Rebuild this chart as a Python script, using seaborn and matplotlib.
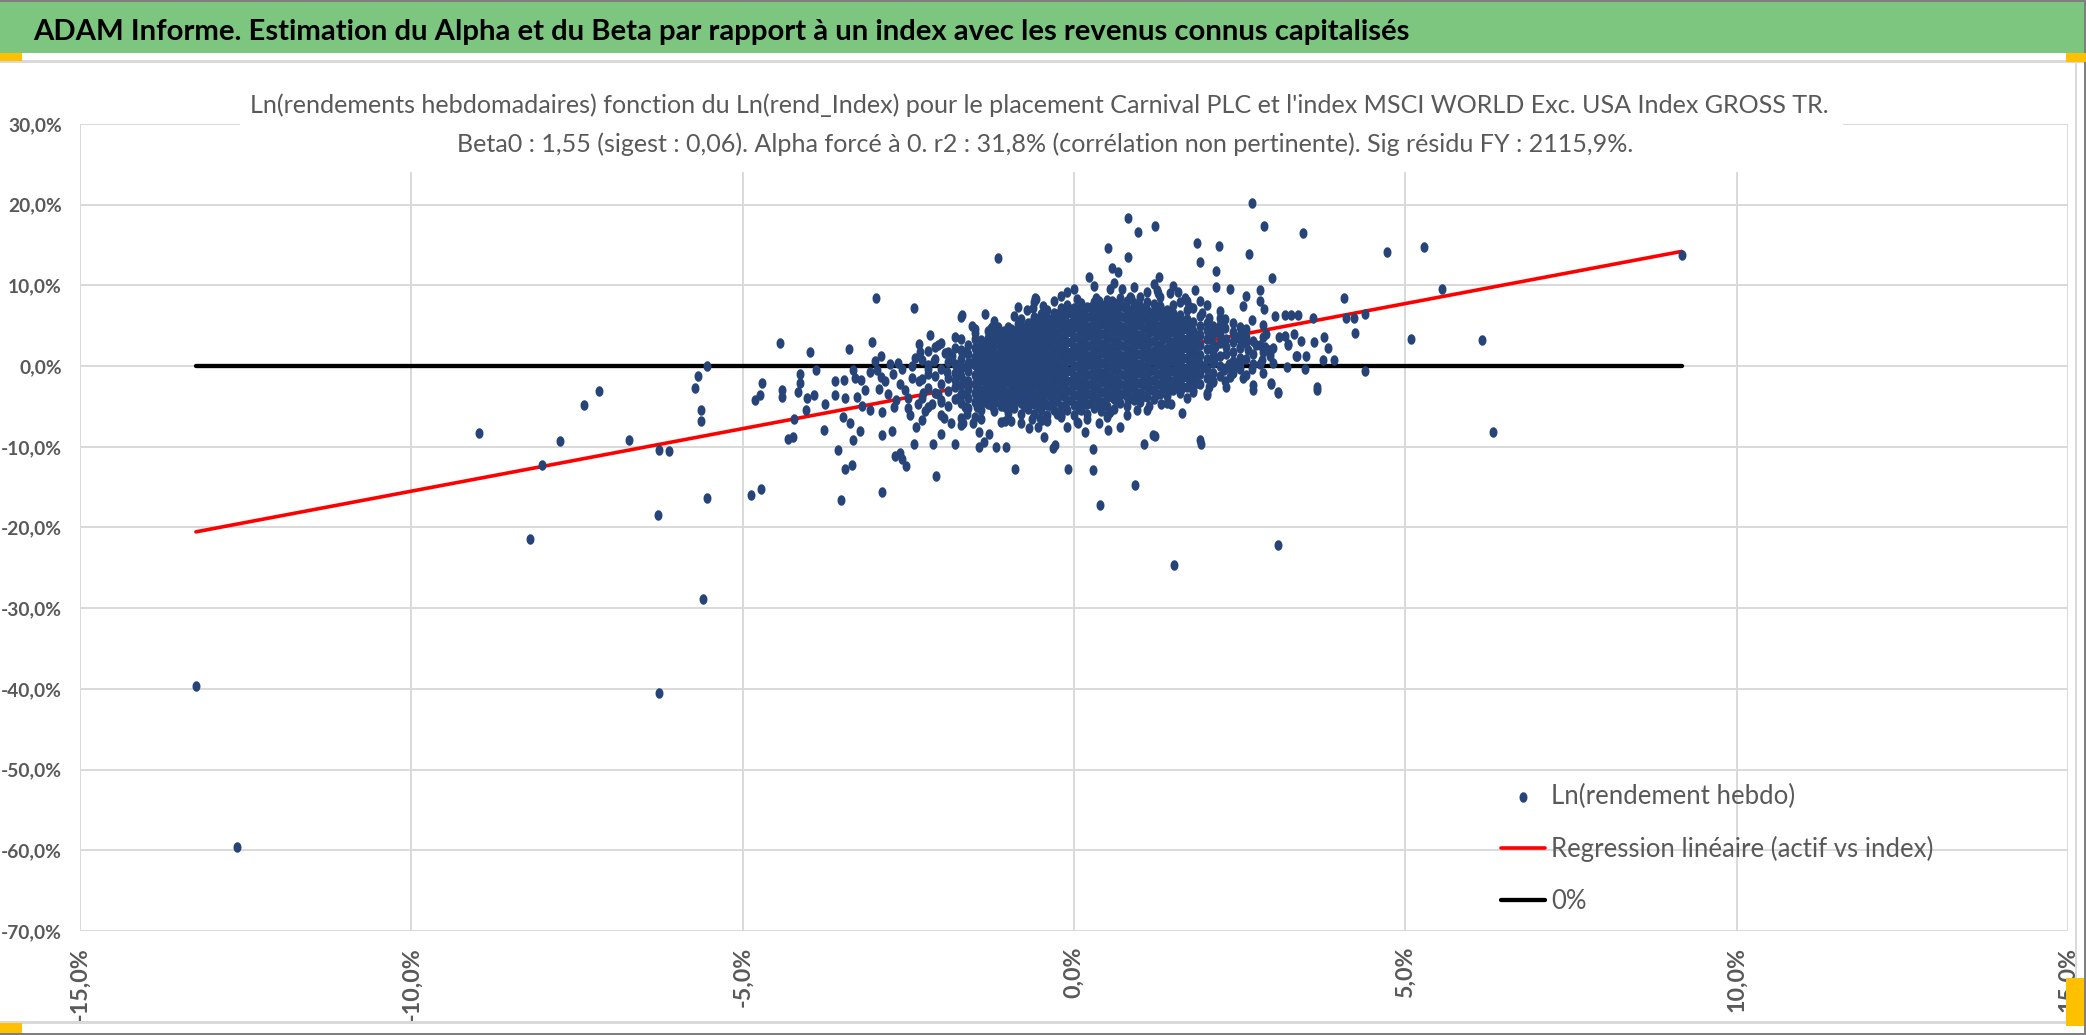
import numpy as np
import pandas as pd
import matplotlib
matplotlib.use("Agg")
import matplotlib.pyplot as plt
import seaborn as sns
from matplotlib.path import Path
from matplotlib.patches import Rectangle

# ------------------------------------------------------------------ data
main_title = ("ADAM Informe. Estimation du Alpha et du Beta par rapport à un index "
              "avec les revenus connus capitalisés")
sub_title_1 = ("Ln(rendements hebdomadaires) fonction du Ln(rend_Index) pour le placement "
               "Carnival PLC et l'index MSCI WORLD Exc. USA Index GROSS TR.")
sub_title_2 = ("Beta0 : 1,55 (sigest : 0,06). Alpha forcé à 0. r2 : 31,8% "
               "(corrélation non pertinente). Sig résidu FY : 2115,9%.")
legend_labels = ["Ln(rendement hebdo)", "Regression linéaire (actif vs index)", "0%"]
beta0 = 1.55
x_ticks = [-15, -10, -5, 0, 5, 10, 15]
y_ticks = [-70, -60, -50, -40, -30, -20, -10, 0, 10, 20, 30]

# (index return %, asset return %)
left_tail = [(-13.25, -39.7), (-12.63, -59.6), (-8.98, -8.3), (-8.21, -21.4), (-8.03, -12.3),
             (-7.76, -9.3), (-7.39, -4.8), (-7.17, -3.1), (-6.71, -9.1), (-6.28, -18.4),
             (-6.27, -10.4), (-6.11, -10.5), (-6.26, -40.5), (-5.72, -2.7), (-5.68, -1.2),
             (-5.54, 0.0), (-5.63, -5.4), (-5.63, -6.8), (-5.54, -16.4), (-5.60, -28.9),
             (-4.87, -16.0), (-4.72, -15.2)]

mid_left = [(-4.43, 2.9), (-3.99, 1.8), (-3.39, 2.1), (-3.05, 3.0), (-2.91, 1.3), (-2.99, 8.4),
            (-2.41, 7.2), (-2.17, 3.9), (-2.34, 2.8), (-2.32, 1.75), (-4.71, -2.1), (-4.41, -2.9),
            (-4.13, -1.0), (-4.13, -2.1), (-3.90, -0.5), (-3.60, -1.9), (-3.47, -1.7), (-3.33, -0.5),
            (-3.30, -1.5), (-3.22, -1.7), (-3.08, -0.7), (-2.97, -0.5), (-2.92, -1.3), (-2.85, -1.9),
            (-2.78, 0.3), (-2.65, 0.4), (-2.60, -0.3), (-2.45, 0.0), (-2.73, -1.0), (-2.21, 0.1),
            (-2.34, -1.9), (-2.10, 2.4), (-2.05, 2.6), (-1.94, 1.6), (-1.84, 1.2), (-1.69, 1.6),
            (-1.91, -0.7), (-1.79, -1.7), (-1.54, 0.4), (-1.44, 1.6), (-1.34, 1.2), (-1.19, 2.8),
            (-1.09, 2.4), (-0.94, 3.2), (-0.74, 2.8), (-0.64, 3.4), (-0.54, 2.4), (-0.44, 4.0),
            (-2.95, -2.8), (-2.80, -3.4), (-2.62, -2.2), (-2.55, -3.0), (-2.45, -1.5),
            (-2.28, -3.3), (-2.20, -1.0), (-2.12, 0.6), (-2.40, 1.0), (-2.68, -4.2),
            (-3.15, -2.9), (-3.00, 0.6), (-2.50, -5.2), (-2.25, -5.6), (-2.05, -3.5)]

upper_fringe = [(-1.15, 13.4), (-1.70, 6.1), (-1.35, 6.4), (-1.54, 5.0), (-1.49, 4.6), (-1.25, 4.7),
                (-1.14, 4.9), (-1.40, 3.2), (-0.84, 7.3), (-0.71, 7.0), (-0.62, 7.2), (-0.58, 8.3),
                (-0.47, 7.4), (-0.45, 6.4), (-0.81, 5.2), (-0.19, 8.65), (-0.10, 9.2), (0.05, 8.3),
                (0.33, 8.4), (0.38, 8.1), (0.55, 9.5), (0.73, 9.5), (0.57, 8.1), (0.77, 7.5),
                (0.86, 8.5), (-0.06, 7.1), (0.33, 6.4), (0.01, 5.2), (-0.51, 4.8), (-0.34, 5.2),
                (-0.24, 5.8), (-0.13, 6.1), (0.47, 5.6), (0.62, 4.8), (0.81, 18.4), (0.51, 14.6),
                (0.81, 13.5), (0.57, 12.1), (0.66, 11.6), (0.23, 11.0), (-0.59, 8.4), (1.30, 7.3),
                (1.70, 8.1), (1.27, 9.0), (-1.69, 6.3), (-1.24, 4.9)]

lower_fringe = [(-3.52, -16.6), (-2.90, -15.6), (-2.09, -13.6), (-0.89, -12.7), (-0.09, -12.7),
                (0.29, -12.9), (0.39, -17.2), (0.29, -10.3), (0.92, -14.7), (-3.46, -12.8),
                (-3.35, -12.2), (-3.56, -10.4), (-2.70, -11.1), (-2.62, -10.8), (-2.60, -11.5),
                (-2.53, -12.4), (-4.32, -9.0), (-4.24, -8.8), (-3.77, -7.9), (-4.23, -6.5),
                (-3.33, -9.2), (-3.23, -8.0), (-3.38, -7.1), (-3.48, -6.3), (-2.90, -8.5),
                (-2.75, -8.0), (-2.41, -9.6), (-2.13, -9.7), (-1.79, -9.7), (-2.38, -7.5),
                (-2.30, -6.7), (-2.48, -6.0), (-2.00, -8.4), (-1.96, -6.4), (-1.85, -7.1),
                (-1.70, -7.3), (-1.43, -10.0), (-1.36, -9.4), (-1.43, -8.2), (-1.29, -8.4),
                (-1.18, -10.0), (-1.02, -10.0), (-0.95, -6.8), (-0.68, -7.7), (-0.54, -7.5),
                (-0.45, -8.8), (-0.31, -10.1), (-0.28, -9.8), (-0.64, -6.5), (-0.49, -6.7),
                (-0.19, -6.3), (0.06, -7.1), (0.17, -8.2), (0.38, -7.0), (0.52, -7.9),
                (0.70, -7.6), (0.55, -5.7), (-4.81, -4.2), (-4.74, -3.6), (-4.41, -3.8),
                (-4.16, -3.2), (-4.03, -4.0), (-3.93, -3.6), (-4.04, -5.5), (-3.76, -4.7),
                (-3.61, -3.6), (-3.45, -4.0), (-3.28, -3.8), (-3.20, -4.9), (-3.08, -5.5),
                (-2.90, -5.7), (-2.72, -5.1), (-2.50, -4.0), (-2.35, -4.7), (-2.15, -4.7),
                (-2.00, -4.4), (-1.75, -4.0), (-1.64, -5.1), (-1.49, -6.3), (-1.44, -4.7),
                (-1.24, -4.9), (-1.14, -3.6), (-1.04, -5.1), (-0.89, -4.2), (-0.74, -4.9),
                (-0.44, -4.7), (-0.26, -5.9), (-0.13, -5.1), (0.07, -5.3), (0.17, -4.7),
                (0.37, -4.7), (0.57, -3.8), (0.82, -4.2), (0.52, -5.9), (0.04, -6.9),
                (-0.51, -6.4), (-1.04, -6.8), (-1.62, -5.9), (-1.52, -7.1), (-1.67, -7.1),
                (-1.47, -5.1), (-1.67, -3.4), (-1.64, -1.8), (-1.69, -0.1), (-1.67, 1.8)]

right_fringe = [(2.69, 20.2), (1.22, 17.4), (0.96, 16.6), (2.86, 17.3), (3.45, 16.5), (4.72, 14.1),
                (5.28, 14.8), (1.85, 15.3), (2.19, 14.9), (2.64, 13.9), (1.90, 12.9), (2.14, 11.8),
                (1.29, 11.0), (2.99, 10.9), (2.14, 9.8), (2.36, 9.6), (1.82, 9.4), (5.56, 9.5),
                (4.07, 8.5), (2.81, 9.4), (2.59, 8.7), (2.80, 8.1), (1.10, 9.2), (1.25, 9.4),
                (1.45, 9.0), (1.57, 9.2), (1.67, 8.4), (1.90, 8.1), (0.85, 8.6), (2.55, 7.5),
                (2.87, 7.1), (3.60, 6.0), (3.18, 6.3), (3.28, 6.3), (3.38, 6.3), (3.03, 6.2),
                (4.10, 5.9), (4.23, 5.9), (4.39, 6.5), (4.24, 4.1), (5.09, 3.4), (6.16, 3.2),
                (4.39, -0.6), (3.77, 3.6), (3.83, 2.3), (3.62, 3.0), (3.42, 3.1), (3.37, 1.3),
                (3.50, 1.3), (3.76, 0.7), (3.92, 0.7), (3.48, -0.4), (3.66, -2.6), (3.18, 3.7),
                (3.32, 4.0), (3.23, 2.6), (3.21, -0.1), (2.98, -2.1), (2.70, -2.4), (2.55, -1.5),
                (2.88, 2.4), (2.96, 1.6), (2.83, 0.8), (2.96, 1.2), (2.75, 2.6), (2.63, 2.0),
                (2.51, 4.9), (2.68, 5.7), (2.43, 3.5), (2.28, 5.8), (2.20, 6.0), (2.03, 6.0),
                (1.93, 6.6), (1.75, 7.3), (1.52, 6.0), (1.37, 5.8), (1.17, 6.6), (1.00, 5.8),
                (2.28, 4.7), (2.51, 3.9), (2.34, 0.3), (2.38, -0.5), (2.51, 0.3), (2.68, -0.3),
                (2.28, -1.9), (2.03, -2.6), (1.78, -2.2), (1.62, -2.8), (2.13, 2.4), (2.05, 3.4),
                (2.18, 4.4), (2.30, 2.4), (2.50, 2.4), (2.60, 3.6), (2.80, 2.6), (2.95, 2.0),
                (3.10, 3.6), (3.23, 2.8), (3.35, 1.2), (2.98, -2.2), (3.08, -3.2), (1.80, -3.2),
                (2.10, -1.8), (2.36, -1.4), (2.46, 0.1), (2.80, 0.3), (2.26, -0.5), (1.96, -0.1),
                (2.11, 0.7), (2.90, 4.0), (9.17, 13.8)]

lower_right = [(6.32, -8.2), (1.05, -9.6), (1.22, -8.7), (1.92, -9.6), (3.08, -22.2), (1.51, -24.6),
               (1.63, -5.8), (1.13, -4.9), (0.95, -5.5), (1.32, -4.7), (1.47, -4.7), (2.00, -3.3),
               (3.08, -3.3), (3.66, -3.0), (2.70, -3.0), (1.19, -8.5), (1.90, -9.2)]

# dense core of the cloud, column by column: index return -> asset returns
core_columns = [
    (-2.30, [-3.9, -1.6, 0.8]),
    (-2.20, [-5.1, -2.7, -0.4, 1.9]),
    (-2.10, [-3.3, -1.2, 0.9]),
    (-2.00, [-6.0, -4.2, -2.2, -0.3, 2.9]),
    (-1.90, [-5.0, -3.1, -1.5, 0.5, 1.8]),
    (-1.80, [-4.1, -2.6, -0.9, 0.2, 2.2, 3.6]),
    (-1.70, [-6.4, -4.6, -3.4, -2.3, -1.2, -0.2, 0.9, 2.0, 3.4]),
    (-1.60, [-5.2, -4.0, -2.8, -1.8, -0.6, 0.4, 1.5, 2.6]),
    (-1.50, [-4.5, -3.3, -2.2, -1.1, 0.1, 1.1, 2.3, 3.3, 4.1]),
    (-1.40, [-6.5, -5.4, -4.1, -2.9, -1.6, -0.5, 0.6, 1.8, 2.9]),
    (-1.30, [-4.7, -3.5, -2.4, -1.2, 0.0, 1.2, 2.2, 3.5, 4.3]),
    (-1.20, [-5.6, -4.4, -3.0, -1.9, -0.7, 0.5, 1.6, 2.7, 3.8, 5.6]),
    (-1.10, [-6.9, -5.0, -3.8, -2.5, -1.3, -0.1, 1.0, 2.1, 3.2, 4.2]),
    (-1.00, [-5.8, -4.5, -3.3, -2.0, -0.8, 0.4, 1.6, 2.7, 3.9, 4.9]),
    (-0.90, [-5.2, -4.0, -2.7, -1.5, -0.3, 0.9, 2.1, 3.3, 4.4, 6.2]),
    (-0.80, [-7.1, -5.9, -4.6, -3.4, -2.1, -0.9, 0.3, 1.5, 2.6, 3.8, 5.0, 5.8]),
    (-0.70, [-5.3, -4.1, -2.8, -1.6, -0.4, 0.8, 2.0, 3.2, 4.4, 5.4]),
    (-0.60, [-5.9, -4.7, -3.5, -2.2, -1.0, 0.2, 1.4, 2.6, 3.8, 5.0, 6.1, 7.9]),
    (-0.50, [-5.4, -4.2, -2.9, -1.7, -0.5, 0.7, 1.9, 3.1, 4.3, 5.5, 6.4]),
    (-0.40, [-6.8, -6.0, -4.8, -3.5, -2.3, -1.1, 0.1, 1.3, 2.5, 3.7, 4.9, 6.0, 6.9]),
    (-0.30, [-5.5, -4.2, -3.0, -1.8, -0.6, 0.6, 1.8, 3.0, 4.2, 5.4, 6.6, 8.1]),
    (-0.20, [-6.1, -4.9, -3.6, -2.4, -1.2, 0.0, 1.2, 2.4, 3.6, 4.8, 6.0, 7.2]),
    (-0.10, [-7.6, -5.5, -4.3, -3.1, -1.8, -0.6, 0.6, 1.8, 3.0, 4.2, 5.4, 6.6, 7.6]),
    (0.00, [-6.0, -4.8, -3.6, -2.4, -1.2, 0.0, 1.2, 2.4, 3.6, 4.8, 6.0, 7.2, 9.6]),
    (0.10, [-5.4, -4.2, -3.0, -1.8, -0.6, 0.6, 1.8, 3.0, 4.2, 5.4, 6.6, 7.8]),
    (0.20, [-6.6, -5.9, -4.7, -3.5, -2.3, -1.1, 0.1, 1.3, 2.5, 3.7, 4.9, 6.1, 7.3]),
    (0.30, [-5.2, -4.0, -2.8, -1.6, -0.4, 0.8, 2.0, 3.2, 4.4, 5.6, 6.8, 7.9, 9.9]),
    (0.40, [-5.6, -4.4, -3.2, -2.0, -0.8, 0.4, 1.6, 2.8, 4.0, 5.2, 6.4, 7.6]),
    (0.50, [-6.3, -5.0, -3.8, -2.6, -1.4, -0.2, 1.0, 2.2, 3.4, 4.6, 5.8, 7.0, 8.2]),
    (0.60, [-5.3, -4.1, -2.9, -1.7, -0.5, 0.7, 1.9, 3.1, 4.3, 5.5, 6.7, 7.8, 10.3]),
    (0.70, [-4.6, -3.4, -2.2, -1.0, 0.2, 1.4, 2.6, 3.8, 5.0, 6.2, 7.4, 8.5]),
    (0.80, [-6.0, -4.9, -3.7, -2.5, -1.3, -0.1, 1.1, 2.3, 3.5, 4.7, 5.9, 7.1, 8.1]),
    (0.90, [-4.2, -3.0, -1.8, -0.6, 0.6, 1.8, 3.0, 4.2, 5.4, 6.6, 7.8, 9.8]),
    (1.00, [-4.5, -3.3, -2.1, -0.9, 0.3, 1.5, 2.7, 3.9, 5.1, 6.3, 7.5, 8.6]),
    (1.10, [-5.4, -3.8, -2.6, -1.4, -0.2, 1.0, 2.2, 3.4, 4.6, 5.8, 7.0, 8.0]),
    (1.20, [-4.1, -2.9, -1.7, -0.5, 0.7, 1.9, 3.1, 4.3, 5.5, 6.7, 7.7, 10.2]),
    (1.30, [-3.4, -2.2, -1.0, 0.2, 1.4, 2.6, 3.8, 5.0, 6.2, 7.4, 8.6]),
    (1.40, [-4.6, -3.7, -2.5, -1.3, -0.1, 1.1, 2.3, 3.5, 4.7, 5.9, 7.0]),
    (1.50, [-3.0, -1.8, -0.6, 0.6, 1.8, 3.0, 4.2, 5.4, 6.6, 7.6, 9.9]),
    (1.60, [-3.3, -2.1, -0.9, 0.3, 1.5, 2.7, 3.9, 5.1, 6.3, 8.0]),
    (1.70, [-4.0, -2.6, -1.4, -0.2, 1.0, 2.2, 3.4, 4.6, 5.8, 6.9]),
    (1.80, [-2.9, -1.7, -0.5, 0.7, 1.9, 3.1, 4.3, 5.5, 7.2]),
    (1.90, [-2.2, -1.0, 0.2, 1.4, 2.6, 3.8, 5.0, 6.2]),
    (2.00, [-3.6, -1.5, -0.3, 0.9, 2.1, 3.3, 4.5, 5.3, 7.6]),
    (2.10, [-2.0, -0.8, 0.4, 1.6, 2.8, 4.0, 5.0]),
    (2.20, [-1.2, 0.0, 1.2, 2.9, 3.9, 5.1, 6.8]),
    (2.30, [-2.6, -0.2, 1.5, 3.4]),
    (2.40, [-0.9, 0.6, 1.8, 3.0, 4.2, 5.4]),
    (2.50, [-0.4, 1.0, 2.2, 3.3]),
    (2.60, [-1.1, 0.9, 2.9, 4.6]),
    (2.70, [0.2, 1.5, 3.1]),
    (2.85, [-0.8, 1.7, 3.6, 5.1]),
    (3.00, [0.4, 2.3]),
]

# innermost, densest part of the cloud (between the columns above)
inner_columns = [
    (-1.45, [-3.9, -2.7, -1.5, -0.3, 0.9, 2.1]),
    (-1.35, [-4.4, -3.2, -2.0, -0.8, 0.4, 1.6, 2.8]),
    (-1.25, [-4.0, -2.8, -1.6, -0.4, 0.8, 2.0, 3.2]),
    (-1.15, [-4.5, -3.3, -2.1, -0.9, 0.3, 1.5, 2.7, 3.7]),
    (-1.05, [-4.1, -2.9, -1.7, -0.5, 0.7, 1.9, 3.1, 4.3]),
    (-0.95, [-4.8, -3.6, -2.4, -1.2, 0.0, 1.2, 2.4, 3.6, 4.6]),
    (-0.85, [-4.2, -3.0, -1.8, -0.6, 0.6, 1.8, 3.0, 4.2, 5.2]),
    (-0.75, [-4.9, -3.7, -2.5, -1.3, -0.1, 1.1, 2.3, 3.5, 4.7]),
    (-0.65, [-4.3, -3.1, -1.9, -0.7, 0.5, 1.7, 2.9, 4.1, 5.3]),
    (-0.55, [-4.9, -3.7, -2.5, -1.3, -0.1, 1.1, 2.3, 3.5, 4.7, 5.8]),
    (-0.45, [-4.4, -3.2, -2.0, -0.8, 0.4, 1.6, 2.8, 4.0, 5.2, 6.3]),
    (-0.35, [-5.0, -3.8, -2.6, -1.4, -0.2, 1.0, 2.2, 3.4, 4.6, 5.8]),
    (-0.25, [-4.3, -3.1, -1.9, -0.7, 0.5, 1.7, 2.9, 4.1, 5.3, 6.4]),
    (-0.15, [-4.9, -3.7, -2.5, -1.3, -0.1, 1.1, 2.3, 3.5, 4.7, 5.9, 7.0]),
    (-0.05, [-4.2, -3.0, -1.8, -0.6, 0.6, 1.8, 3.0, 4.2, 5.4, 6.6]),
    (0.05, [-4.8, -3.6, -2.4, -1.2, 0.0, 1.2, 2.4, 3.6, 4.8, 6.0, 7.1]),
    (0.15, [-4.1, -2.9, -1.7, -0.5, 0.7, 1.9, 3.1, 4.3, 5.5, 6.7]),
    (0.25, [-4.6, -3.4, -2.2, -1.0, 0.2, 1.4, 2.6, 3.8, 5.0, 6.2, 7.3]),
    (0.35, [-3.9, -2.7, -1.5, -0.3, 0.9, 2.1, 3.3, 4.5, 5.7, 6.9]),
    (0.45, [-4.4, -3.2, -2.0, -0.8, 0.4, 1.6, 2.8, 4.0, 5.2, 6.4, 7.5]),
    (0.55, [-3.7, -2.5, -1.3, -0.1, 1.1, 2.3, 3.5, 4.7, 5.9, 7.1]),
    (0.65, [-4.2, -3.0, -1.8, -0.6, 0.6, 1.8, 3.0, 4.2, 5.4, 6.6, 7.7]),
    (0.75, [-3.5, -2.3, -1.1, 0.1, 1.3, 2.5, 3.7, 4.9, 6.1, 7.3]),
    (0.85, [-3.9, -2.7, -1.5, -0.3, 0.9, 2.1, 3.3, 4.5, 5.7, 6.9]),
    (0.95, [-3.3, -2.1, -0.9, 0.3, 1.5, 2.7, 3.9, 5.1, 6.3, 7.5]),
    (1.05, [-3.7, -2.5, -1.3, -0.1, 1.1, 2.3, 3.5, 4.7, 5.9, 7.0]),
    (1.15, [-3.0, -1.8, -0.6, 0.6, 1.8, 3.0, 4.2, 5.4, 6.6]),
    (1.25, [-3.4, -2.2, -1.0, 0.2, 1.4, 2.6, 3.8, 5.0, 6.2, 7.1]),
    (1.35, [-2.7, -1.5, -0.3, 0.9, 2.1, 3.3, 4.5, 5.7, 6.7]),
    (1.45, [-3.0, -1.8, -0.6, 0.6, 1.8, 3.0, 4.2, 5.4, 6.3]),
    (1.55, [-2.4, -1.2, 0.0, 1.2, 2.4, 3.6, 4.8, 5.9]),
    (1.65, [-2.6, -1.4, -0.2, 1.0, 2.2, 3.4, 4.6, 5.6]),
    (1.75, [-1.9, -0.7, 0.5, 1.7, 2.9, 4.1, 5.1]),
    (1.85, [-2.1, -0.9, 0.3, 1.5, 2.7, 3.9]),
]

# ------------------------------------------------------------------ table
pairs = left_tail + mid_left + upper_fringe + lower_fringe + right_fringe + lower_right
pairs += [(cx, cy) for cx, ys in core_columns + inner_columns for cy in ys]
df = pd.DataFrame(pairs, columns=["index_ret", "asset_ret"])
x_min, x_max = df["index_ret"].min(), df["index_ret"].max()
line_df = pd.DataFrame({"index_ret": [x_min, x_max]})
line_df["reg"] = beta0 * line_df["index_ret"]
line_df["zero"] = 0.0 * line_df["index_ret"]

# ------------------------------------------------------------------ style
sns.set_style("white")
plt.rcParams["font.family"] = ["Lato", "DejaVu Sans"]
W, H = 2086, 1035
fig = plt.figure(figsize=(W / 100, H / 100), dpi=100)
fig.patch.set_facecolor("white")
GRAY = "#595959"
DOT = "#264478"

ax = fig.add_axes([80 / W, 1 - 931 / H, (2068 - 80) / W, (931 - 124) / H])
ax.set_axisbelow(True)

sns.lineplot(data=line_df, x="index_ret", y="reg", ax=ax, color="#FF0000", lw=2.6,
             zorder=2, label=legend_labels[1])
sns.lineplot(data=line_df, x="index_ret", y="zero", ax=ax, color="black", lw=3.1,
             zorder=2.1, label=legend_labels[2])

th = np.linspace(0, 2 * np.pi, 48)
ellipse = Path(np.column_stack([0.38 * np.cos(th), 0.5 * np.sin(th)]), closed=True)
sns.scatterplot(data=df, x="index_ret", y="asset_ret", ax=ax, color=DOT, marker=ellipse,
                s=57, linewidth=0, zorder=3, label=legend_labels[0])

ax.set_xlim(-15, 15)
ax.set_ylim(-70, 30)
ax.set_xticks(x_ticks)
ax.set_yticks(y_ticks)
ax.grid(True, color="#D9D9D9", lw=1.4)
for s in ax.spines.values():
    s.set_visible(False)
ax.set_xlabel("")
ax.set_ylabel("")

renderer = fig.canvas.get_renderer()


def fitted_size(text, width_px, weight="normal", base=20):
    t = fig.text(0, 0, text, fontsize=base, fontweight=weight)
    w = t.get_window_extent(renderer).width
    t.remove()
    return base * width_px / w


fmt = lambda v: f"{v:.1f}%".replace(".", ",")
ys_fs = fitted_size("-70,0%", 61, "bold")
xs_fs = fitted_size("-15,0%", 74, "bold")
ax.set_yticklabels([fmt(v) for v in y_ticks], fontsize=ys_fs, fontweight="bold", color=GRAY)
ax.set_xticklabels([fmt(v) for v in x_ticks], fontsize=xs_fs, fontweight="bold", color=GRAY,
                   rotation=90)
ax.tick_params(axis="y", length=0, pad=13.0)
ax.tick_params(axis="x", length=0, pad=11.5)

# white box behind the chart title (hides gridlines there)
ax.add_patch(Rectangle((240 / W, 1 - 172 / H), (1843 - 240) / W, (172 - 88) / H,
                       transform=fig.transFigure, fc="white", ec="none", zorder=1.5,
                       clip_on=False))

# banner and frame decorations
fig.patches.append(Rectangle((0, 1 - 53 / H), 1, 53 / H, transform=fig.transFigure,
                             fc="#7DC67F", ec="none", zorder=0))
fig.patches.append(Rectangle((0, 1 - 2 / H), 1, 2 / H, transform=fig.transFigure,
                             fc="#7F7F7F", ec="none", zorder=0.1))
fig.patches.append(Rectangle((0, 1 - 63 / H), 1, 2.5 / H, transform=fig.transFigure,
                             fc="#D9D9D9", ec="none", zorder=0.1))
fig.patches.append(Rectangle((0, 1 - 1023.5 / H), 1, 2.5 / H, transform=fig.transFigure,
                             fc="#D9D9D9", ec="none", zorder=0.1))
fig.patches.append(Rectangle((2075 / W, 1 - 1022 / H), 2 / W, (1022 - 62) / H,
                             transform=fig.transFigure, fc="#D9D9D9", ec="none", zorder=0.1))
fig.patches.append(Rectangle((0, 0), 1, 2.5 / H, transform=fig.transFigure,
                             fc="#7F7F7F", ec="none", zorder=0.1))
fig.patches.append(Rectangle((1 - 2.5 / W, 0), 2.5 / W, 1, transform=fig.transFigure,
                             fc="#7F7F7F", ec="none", zorder=0.1))
for (x0, y0, w0, h0) in [(0, 53, 22, 8), (2066, 53, 20, 9), (0, 1023, 22, 10),
                         (2066, 978, 18, 48)]:
    fig.patches.append(Rectangle((x0 / W, 1 - (y0 + h0) / H), w0 / W, h0 / H,
                                 transform=fig.transFigure, fc="#FFC000", ec="none",
                                 zorder=0.2))

# titles
fig.text(33 / W, 1 - 40 / H, main_title, ha="left", va="baseline",
         fontweight="bold", color="black", fontsize=fitted_size(main_title, 1373, "bold"))
sub_fs = fitted_size(sub_title_1, 1584)
fig.text(1039 / W, 1 - 113 / H, sub_title_1, ha="center", va="baseline", color=GRAY,
         fontsize=sub_fs, zorder=5)
fig.text(1045 / W, 1 - 152 / H, sub_title_2, ha="center", va="baseline", color=GRAY,
         fontsize=sub_fs, zorder=5)

# legend
leg_fs = fitted_size(legend_labels[0], 244)
fs_px = leg_fs * 100 / 72
h, l = ax.get_legend_handles_labels()
order = [l.index(lab) for lab in legend_labels]
ax.legend([h[i] for i in order], [l[i] for i in order], loc="upper left",
          bbox_to_anchor=(1501 / W, 1 - (800 - 0.62 * fs_px) / H),
          bbox_transform=fig.transFigure, frameon=False, borderpad=0,
          borderaxespad=0, handlelength=44 / fs_px, handletextpad=6 / fs_px,
          labelspacing=(58 - 1.2 * fs_px) / fs_px, fontsize=leg_fs,
          labelcolor=GRAY)

fig.savefig("out.png", dpi=100)
